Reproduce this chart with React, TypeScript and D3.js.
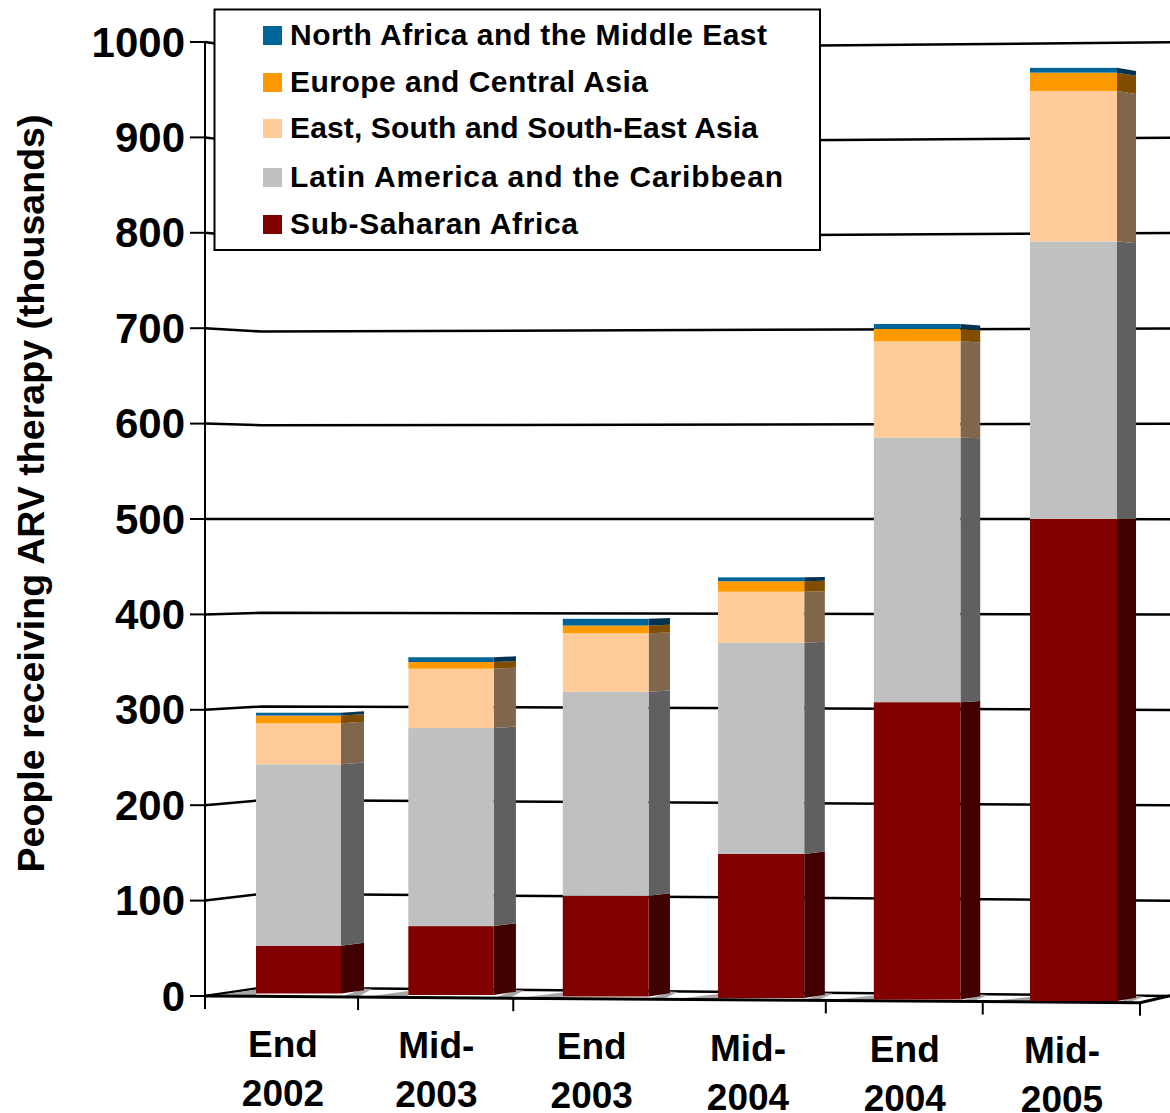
import { useEffect, useRef } from 'react';
import * as d3 from 'd3';

const categories = [['End', '2002'], ['Mid-', '2003'], ['End', '2003'], ['Mid-', '2004'], ['End', '2004'], ['Mid-', '2005']];
const subSaharan = [50, 72, 105, 150, 309, 500];
const latinAmerica = [190, 207, 213, 220, 275, 288];
const eastAsia = [43, 62, 61, 53, 100, 156];
const europe = [8, 7, 8, 11, 13, 19];
const northAfrica = [3, 5, 7, 4, 5, 5];

const seriesNames = [
  'Sub-Saharan Africa',
  'Latin America and the Caribbean',
  'East, South and South-East Asia',
  'Europe and Central Asia',
  'North Africa and the Middle East',
];
const frontColors = ['#800000', '#c0c0c0', '#ffcc99', '#ff9900', '#006699'];
const sideColors = ['#400000', '#606060', '#7f664c', '#7f4c00', '#003350'];
const yTicks = [0, 100, 200, 300, 400, 500, 600, 700, 800, 900, 1000];
// the tick between End 2003 and Mid-2004 is missing in the picture
const xTickSlots = [0, 1, 2, 4, 5, 6];

// legend rows, same order as seriesNames
const legendBaselines = [234, 187, 138, 92, 45];
const legendWidths = [288, 493, 468, 358, 477];

const FONT = '"Liberation Sans", Arial, sans-serif';

export default function App() {
  const svgRef = useRef<SVGSVGElement>(null);

  useEffect(() => {
    if (!svgRef.current) return;
    const svg = d3.select(svgRef.current);
    svg.selectAll('*').remove();

    // left edge of the wall, back of the wall and right edge of the picture
    const yLeft = d3.scaleLinear().domain([0, 1000]).range([996, 42]);
    const yBack = d3.scaleLinear().domain([0, 1000]).range([987.5, 50.5]);
    const yRight = d3.scaleLinear().domain([0, 1000]).range([996, 42.3]);

    const idx = categories.map((_, i) => i);
    const barX = d3.scalePow().exponent(1.01).domain([0, 5]).range([256, 1030]);
    const barW = d3.scaleLinear().domain([0, 5]).range([85, 87]);
    const sideW = d3.scaleLinear().domain([0, 5]).range([23, 19]);
    const barBase = d3.scaleLinear().domain([0, 5]).range([993.5, 1001]);
    const barK = d3.scaleLinear().domain([0, 5]).range([0.955, 0.964]);
    const tickX = d3.scalePow().exponent(1.01).domain([0, 6]).range([205, 1140]);
    const labelX = d3.scalePow().exponent(1.01).domain([0, 5]).range([283, 1062]);
    const labelY = d3.scaleLinear().domain([0, 5]).range([1057, 1063]);
    // side faces lean a little, up below the horizon and down above it
    const lean = (y: number) => (519 - y) * 0.007;

    const line = d3.line();

    // floor
    const floorFront = d3.scaleLinear().domain([205, 1140]).range([996, 1002.7]);
    svg.append('path')
      .attr('d', line([[205, 996], [262, 987.5], [1170, 996], [1140, 1002.7]]))
      .attr('fill', '#fff');

    // gridlines
    const grid = svg.append('g');
    yTicks.forEach(v => {
      grid.append('path')
        .attr('d', line([[205, yLeft(v)], [262, yBack(v)], [1170, yRight(v)]]))
        .attr('fill', 'none')
        .attr('stroke', '#000')
        .attr('stroke-width', 2.5);
    });

    // floor shadows at the foot of each bar
    const shadows = svg.append('g');
    idx.forEach(i => {
      const x0 = barX(i);
      const x1 = x0 + barW(i);
      const x2 = x1 + sideW(i);
      const b = barBase(i);
      shadows.append('path')
        .attr('d', line([[x0 - 38, floorFront(x0 - 38) - 1], [x0, b - 4], [x0, floorFront(x0)]]))
        .attr('fill', '#a6a6a6');
      shadows.append('path')
        .attr('d', line([[x1, floorFront(x1)], [x2, b - 5], [x2 + 8, b - 4.5], [x2 - 4, floorFront(x2) - 1.5]]))
        .attr('fill', '#a6a6a6');
    });

    // front edge of the floor and its right edge
    svg.append('path')
      .attr('d', line([[205, 996], [1140, 1002.7], [1170, 995.7]]))
      .attr('fill', 'none')
      .attr('stroke', '#000')
      .attr('stroke-width', 3);

    // axes
    svg.append('line').attr('x1', 205).attr('x2', 205).attr('y1', 42).attr('y2', 1009)
      .attr('stroke', '#000').attr('stroke-width', 2);
    yTicks.forEach(v => {
      svg.append('line')
        .attr('x1', 190).attr('x2', 205)
        .attr('y1', yLeft(v)).attr('y2', yLeft(v))
        .attr('stroke', '#000').attr('stroke-width', 2);
      svg.append('text')
        .attr('x', 185).attr('y', yLeft(v) + 14.5)
        .attr('text-anchor', 'end')
        .attr('font-family', FONT).attr('font-weight', 700).attr('font-size', 42)
        .text(v);
    });
    xTickSlots.forEach(i => {
      const x = tickX(i);
      svg.append('line')
        .attr('x1', x).attr('x2', x)
        .attr('y1', floorFront(x)).attr('y2', floorFront(x) + 13)
        .attr('stroke', '#000').attr('stroke-width', 2);
    });

    // stacked bars
    const bars = svg.append('g');
    const seriesValues = [subSaharan, latinAmerica, eastAsia, europe, northAfrica];
    const stack = d3.stack<number>()
      .keys(seriesNames)
      .value((i, key) => seriesValues[seriesNames.indexOf(key)][i]);
    stack(idx).forEach((layer, s) => {
      layer.forEach((d, i) => {
        const base = barBase(i);
        const y = d3.scaleLinear().domain([0, 1000]).range([base, base - barK(i) * 1000]);
        const x0 = barX(i);
        const x1 = x0 + barW(i);
        const x2 = x1 + sideW(i);
        const yBot = y(d[0]);
        const yTop = y(d[1]);
        bars.append('path')
          .attr('d', line([[x1, yBot], [x2, yBot + lean(yBot)], [x2, yTop + lean(yTop)], [x1, yTop]]) + 'Z')
          .attr('fill', sideColors[s]);
        bars.append('rect')
          .attr('x', x0).attr('y', yTop)
          .attr('width', x1 - x0).attr('height', yBot - yTop)
          .attr('fill', frontColors[s]);
      });
    });

    // category labels
    categories.forEach((lines, i) => {
      lines.forEach((t, j) => {
        svg.append('text')
          .attr('x', labelX(i)).attr('y', labelY(i) + j * 49)
          .attr('text-anchor', 'middle')
          .attr('font-family', FONT).attr('font-weight', 700).attr('font-size', 37)
          .text(t);
      });
    });

    // axis title
    svg.append('text')
      .attr('transform', 'translate(43.5,493.5) rotate(-90)')
      .attr('text-anchor', 'middle')
      .attr('font-family', FONT).attr('font-weight', 700).attr('font-size', 37.6)
      .text('People receiving ARV therapy (thousands)');

    // legend
    svg.append('rect')
      .attr('x', 214.5).attr('y', 9.5).attr('width', 605.5).attr('height', 240.5)
      .attr('fill', '#fff').attr('stroke', '#000').attr('stroke-width', 2);
    [4, 3, 2, 1, 0].forEach(s => {
      const y = legendBaselines[s];
      svg.append('rect')
        .attr('x', 263).attr('y', y - 19).attr('width', 19).attr('height', 19)
        .attr('fill', frontColors[s]);
      svg.append('text')
        .attr('x', 290).attr('y', y)
        .attr('font-family', FONT).attr('font-weight', 700).attr('font-size', 30)
        .attr('textLength', legendWidths[s])
        .attr('lengthAdjust', 'spacing')
        .text(seriesNames[s]);
    });
  }, []);

  return (
    <svg
      ref={svgRef}
      width={1170}
      height={1113}
      style={{ position: 'absolute', left: 0, top: 0, background: '#fff' }}
    />
  );
}
